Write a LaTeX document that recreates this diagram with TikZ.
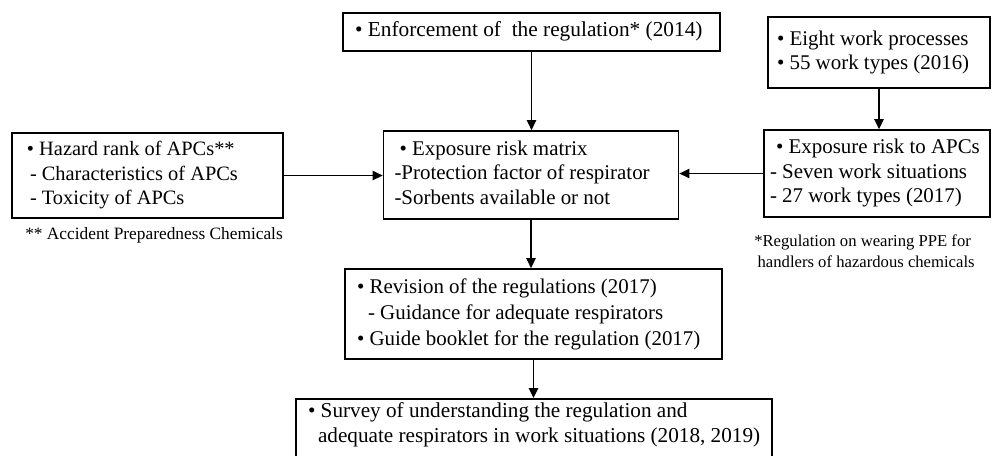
\documentclass[tikz,border=0pt]{standalone}
\usepackage{fontspec}
\setmainfont{Liberation Serif}
\usetikzlibrary{arrows.meta,positioning}
\tikzset{
 flowchart/.style={x=0.75pt,y=-0.75pt,line join=miter,text=black},
 box/.style={draw,line width=1.3pt,inner sep=0pt,
   font=\fontsize{15.7}{18.4}\selectfont},
 looseline/.style={font=\fontsize{15.7}{19.5}\selectfont},
 link/.style={draw,line width=1.2pt,-{Triangle[length=7.5pt,width=7pt]}},
 note/.style={font=\fontsize{12.5}{15.75}\selectfont,align=left,anchor=west,inner sep=0pt}
}
\newcommand{\shiftln}[1]{\hspace*{#1pt}}
\newcommand{\boxlines}[2]{\makebox[#1pt][l]{\begin{tabular}{@{}l@{}}#2\end{tabular}}}

\begin{document}
\begin{tikzpicture}[flowchart]
 \path[use as bounding box,clip] (0,0) rectangle (992,455);
 % boxes
 \node[box,font=\fontsize{16}{18.4}\selectfont,minimum height=28.5pt] (enforce) at (531.5,32)
   {\boxlines{282.75}{\shiftln{9}\textbullet\ Enforcement of\ \ the regulation* (2014)}};
 \node[box,minimum height=66pt] (matrix) at (531,175)
   {\boxlines{221.25}{\shiftln{12}\textbullet\ Exposure risk matrix\\
    \shiftln{8.25}-Protection factor of respirator\\
    \shiftln{8.25}-Sorbents available or not}};
 \node[box,font=\fontsize{15.3}{18.4}\selectfont,minimum height=63.75pt] (hazard) at (147.5,175.5)
   {\boxlines{203.25}{\shiftln{11.25}\textbullet\ Hazard rank of APCs**\\
    \shiftln{13.5}- Characteristics of APCs\\
    \shiftln{13.5}- Toxicity of APCs}};
 \node[box,minimum height=53.25pt] (eight) at (879,52.5)
   {\boxlines{166.5}{\shiftln{6.75}\textbullet\ Eight work processes\\
    \shiftln{6.75}\textbullet\ 55 work types (2016)}};
 \node[box,minimum height=65.25pt] (risk) at (877,173.5)
   {\boxlines{169.5}{\shiftln{9}\textbullet\ Exposure risk to APCs\\
    \shiftln{4.5}- Seven work situations\\
    \shiftln{4.5}- 27 work types (2017)}};
 \node[box,looseline,minimum height=67.5pt] (revision) at (533.5,314)
   {\boxlines{282.75}{\shiftln{9}\textbullet\ Revision of the regulations (2017)\\
    \shiftln{17.25}- Guidance for adequate respirators\\
    \shiftln{9}\textbullet\ Guide booklet for the regulation (2017)}};
 \node[box,font=\fontsize{15.9}{18.75}\selectfont,anchor=north,inner ysep=1pt] (survey) at (534,398)
   {\boxlines{357}{\shiftln{9}\textbullet\ Survey of understanding the regulation and\\
    \shiftln{16.5}adequate respirators in work situations (2018, 2019)\\[14pt]}};
 % notes
 \node[note,font=\fontsize{13}{15.75}\selectfont] (apcnote) at (25,235) {** Accident Preparedness Chemicals};
 \node[note] (ppenote) at (754,251.5)
   {*Regulation on wearing PPE for\\ \shiftln{2.5}handlers of hazardous chemicals};
 % arrows
 \draw[link] (enforce.south) -- (enforce.south |- matrix.north);
 \draw[link] (matrix.south) -- (matrix.south |- revision.north);
 \draw[link] (revision.south) -- (revision.south |- survey.north);
 \draw[link] (eight.south) -- (eight.south |- risk.north);
 \draw[link] (hazard.east) -- (hazard.east -| matrix.west);
 \draw[link] (risk.west) -- (risk.west -| matrix.east);
\end{tikzpicture}
\end{document}
